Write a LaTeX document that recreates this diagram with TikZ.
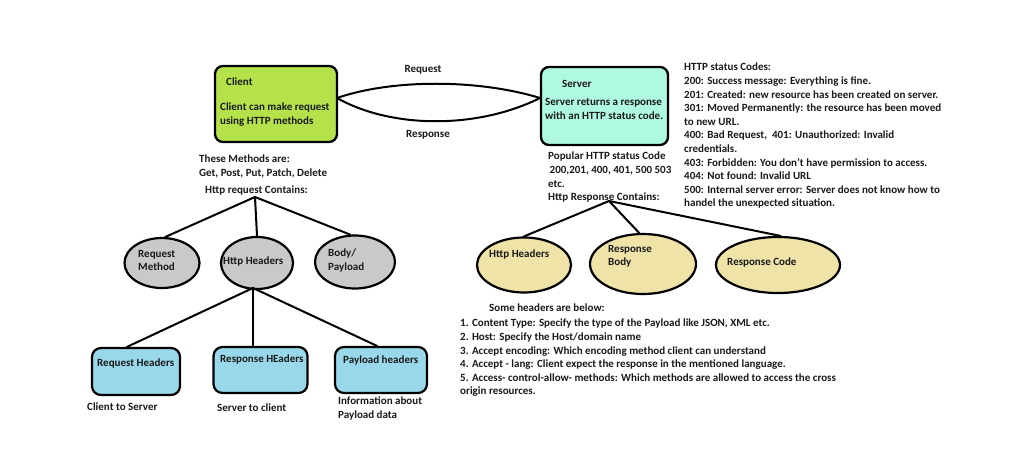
\documentclass[tikz,border=0pt]{standalone}
\usepackage{fontspec}
\setmainfont{Carlito}
\usetikzlibrary{shapes.geometric}
\definecolor{clientgreen}{HTML}{B5E14B}
\definecolor{serveraqua}{HTML}{AFF8E1}
\definecolor{ellgray}{HTML}{C9C9C9}
\definecolor{ellyellow}{HTML}{EFE3A8}
\definecolor{boxblue}{HTML}{99D8EA}
\definecolor{ink}{HTML}{1A1A1A}
\begin{document}
\begin{tikzpicture}[x=1pt,y=-1pt,
  txt/.style={anchor=north west,inner sep=0pt,align=left,text=ink,
    font=\fontsize{11}{13.6}\selectfont\bfseries},
  ctxt/.style={inner sep=0pt,text=ink,font=\fontsize{11}{13.6}\selectfont\bfseries},
  mainbox/.style={draw=black,line width=2.3pt,rounded corners=8pt,inner sep=0pt},
  bluebox/.style={draw=black,line width=2.2pt,rounded corners=9pt,fill=boxblue,inner sep=0pt},
  ell/.style={ellipse,draw=black,line width=2.2pt,inner sep=0pt},
  conn/.style={draw=black,line width=2pt,line cap=round}]
\useasboundingbox (0,0) rectangle (1024,449);
\fill[white] (0,0) rectangle (1024,449);

% Client and server boxes
\node[mainbox,fill=clientgreen,minimum width=122pt,minimum height=76pt] (client) at (276,104) {};
\node[mainbox,fill=serveraqua,minimum width=127pt,minimum height=78pt] (server) at (604.5,106) {};
\node[txt] (clientT) at (226,78) {Client};
\node[txt] (clientD) at (220,103) {Client can make request\\using HTTP methods};
\node[txt] (serverT) at (562,80) {Server};
\node[txt] (serverD) at (545,98) {Server returns a response\\with an HTTP status code.};

% Request / Response lens
\coordinate (lensL) at (337,98);
\coordinate (lensR) at (540,98);
\draw[conn] (lensL) .. controls (392,79) and (478,79) .. (lensR);
\draw[conn] (lensL) .. controls (392,129) and (478,129) .. (lensR);
\node[ctxt] (reqlbl) at (423,70) {Request};
\node[ctxt] (reslbl) at (428,135) {Response};

% Left texts
\node[txt] (methods) at (199,155) {These Methods are:\\Get, Post, Put, Patch, Delete};
\node[txt] (reqcont) at (205,186) {Http request Contains:};

% Right texts under server
\node[txt] (popular) at (548,152) {Popular HTTP status Code\\\hspace*{1.5pt}200,201, 400, 401, 500 503\\etc.\\Http Response Contains:};

% Status codes
\node[txt] (codes) at (684,63) {HTTP status Codes:\\
200: Success message: Everything is fine.\\
201: Created: new resource has been created on server.\\
301: Moved Permanently: the resource has been moved\\
to new URL.\\
400: Bad Request,\ \ 401: Unauthorized: Invalid\\
credentials.\\
403: Forbidden: You don't have permission to access.\\
404: Not found: Invalid URL\\
500: Internal server error: Server does not know how to\\
handel the unexpected situation.};

% Left tree
\coordinate (apexL) at (255,197);
\node[ell,fill=ellgray,minimum width=75pt,minimum height=50pt] (reqm) at (162,263) {};
\node[ell,fill=ellgray,minimum width=72pt,minimum height=52pt] (hhL) at (257,263) {};
\node[ell,fill=ellgray,minimum width=80pt,minimum height=53pt] (body) at (355,262) {};
\node[txt] (reqmT) at (138,250) {Request\\Method};
\node[txt] (hhLT) at (223,257) {Http Headers};
\node[txt] (bodyT) at (328,249) {Body/\\Payload};
\draw[conn] (apexL) -- (reqm.83);
\draw[conn] (apexL) -- (hhL.north);
\draw[conn] (apexL) -- (body.100);

% Header boxes
\node[bluebox,minimum width=88pt,minimum height=47pt] (reqh) at (136,371.5) {};
\node[bluebox,minimum width=94pt,minimum height=46pt] (resh) at (260.5,370) {};
\node[bluebox,minimum width=92pt,minimum height=46pt] (payh) at (381,370) {};
\node[txt] (reqhT) at (97,359) {Request Headers};
\node[txt] (reshT) at (220,355) {Response HEaders};
\node[txt] (payhT) at (343,356) {Payload headers};
\coordinate (hhLb) at (253,288);
\draw[conn] (hhLb) -- ([xshift=-9pt]reqh.north);
\draw[conn] (hhLb) -- ([xshift=-7.5pt]resh.north);
\draw[conn] (hhLb) -- ([xshift=-4pt]payh.north);
\node[txt] (c2s) at (87,403) {Client to Server};
\node[txt] (s2c) at (217,404) {Server to client};
\node[txt] (info) at (338,397) {Information about\\Payload data};

% Right tree
\coordinate (apexR) at (609,201);
\node[ell,fill=ellyellow,minimum width=94pt,minimum height=55pt] (hhR) at (524,265) {};
\node[ell,fill=ellyellow,minimum width=106pt,minimum height=60pt] (rbody) at (643,264) {};
\node[ell,fill=ellyellow,minimum width=124pt,minimum height=56pt] (rcode) at (778,265) {};
\node[txt] (hhRT) at (489,250) {Http Headers};
\node[txt] (rbodyT) at (608,245) {Response\\Body};
\node[txt] (rcodeT) at (727,258) {Response Code};
\draw[conn] (apexR) -- (hhR.north);
\draw[conn] (apexR) -- (rbody.97);
\draw[conn] (apexR) -- (rcode.85);

% Header list
\node[txt] (somehdr) at (489,304) {Some headers are below:};
\node[txt] (hdrlist) at (460,319) {1. Content Type: Specify the type of the Payload like JSON, XML etc.\\
2. Host: Specify the Host/domain name\\
3. Accept encoding: Which encoding method client can understand\\
4. Accept - lang: Client expect the response in the mentioned language.\\
5. Access- control-allow- methods: Which methods are allowed to access the cross\\
origin resources.};
\end{tikzpicture}
\end{document}
